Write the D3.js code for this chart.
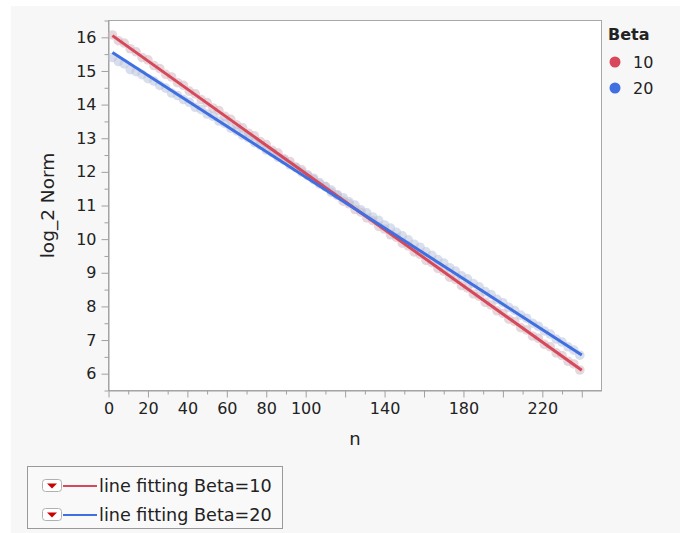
<!DOCTYPE html>
<html>
<head>
<meta charset="utf-8">
<script src="https://cdn.jsdelivr.net/npm/d3@7"></script>
<style>
  body { margin: 0; background: #fff; }
  svg text { font-family: "DejaVu Sans", sans-serif; fill: #222; }
</style>
</head>
<body>
<div id="chart"></div>
<script>
'use strict';

// n values shared by both series
const nValues = d3.range(80).map(k => 2 + 3 * k);

const beta10 = [
  16.07, 15.90, 15.83, 15.66, 15.57, 15.40, 15.33, 15.16, 15.07, 14.90,
  14.82, 14.65, 14.57, 14.40, 14.32, 14.15, 14.06, 13.90, 13.82, 13.65,
  13.56, 13.40, 13.31, 13.15, 13.07, 12.90, 12.81, 12.64, 12.56, 12.39,
  12.31, 12.14, 12.06, 11.89, 11.81, 11.64, 11.56, 11.39, 11.30, 11.13,
  11.05, 10.88, 10.80, 10.63, 10.55, 10.38, 10.30, 10.13, 10.05, 9.88,
  9.80, 9.62, 9.55, 9.37, 9.30, 9.13, 9.05, 8.87, 8.80, 8.62,
  8.55, 8.37, 8.30, 8.12, 8.04, 7.87, 7.79, 7.62, 7.55, 7.37,
  7.30, 7.12, 7.05, 6.87, 6.80, 6.62, 6.54, 6.37, 6.29, 6.11
];

const beta20 = [
  15.40, 15.28, 15.21, 15.04, 14.98, 14.89, 14.77, 14.70, 14.57, 14.49,
  14.34, 14.27, 14.15, 14.07, 13.92, 13.85, 13.72, 13.65, 13.51, 13.44,
  13.30, 13.22, 13.09, 13.01, 12.87, 12.79, 12.65, 12.57, 12.43, 12.35,
  12.21, 12.13, 11.99, 11.91, 11.77, 11.68, 11.56, 11.46, 11.32, 11.23,
  11.11, 11.01, 10.87, 10.78, 10.66, 10.56, 10.42, 10.33, 10.20, 10.10,
  9.98, 9.85, 9.76, 9.62, 9.52, 9.39, 9.29, 9.15, 9.05, 8.91,
  8.82, 8.68, 8.58, 8.44, 8.35, 8.21, 8.11, 7.97, 7.88, 7.74,
  7.65, 7.50, 7.41, 7.27, 7.18, 7.03, 6.94, 6.80, 6.70, 6.55
];

// linear fits
const betaLevels = ["10", "20"];
const fitIntercept = [16.134, 15.625];
const fitSlope = [-0.0418, -0.0378];
const fitRange = [2, 240];

const xMajorTicks = d3.range(0, 241, 20);
const xMinorTicks = d3.range(10, 250, 20);
const xTickLabels = [0, 20, 40, 60, 80, 100, 140, 180, 220];
const yMajorTicks = d3.range(6, 17);
const yMinorTicks = d3.range(5.5, 16.6, 1);

const lineColors = ["#d6485a", "#3f6fe0"];
const pointColors = ["rgba(210,182,192,0.55)", "rgba(186,194,220,0.55)"];

const m = { left: 108.5, top: 20.5, right: 601.5, bottom: 390.5 };

const svg = d3.select('#chart').append('svg')
  .attr('width', 680)
  .attr('height', 533);

svg.append('rect')
  .attr('x', 11).attr('y', 6)
  .attr('width', 669).attr('height', 527)
  .attr('fill', '#f7f7f7');

const x = d3.scaleLinear().domain([0, 250]).range([m.left, m.right]);
const y = d3.scaleLinear().domain([5.5, 16.5]).range([m.bottom, m.top]);

svg.append('rect')
  .attr('x', m.left).attr('y', m.top)
  .attr('width', m.right - m.left).attr('height', m.bottom - m.top)
  .attr('fill', '#fff')
  .attr('stroke', '#a8a8a8');

// axes
function styleAxis(g) {
  g.select('.domain').attr('stroke', '#a0a0a0');
  g.selectAll('.tick line').attr('stroke', '#a0a0a0');
  g.selectAll('.tick text')
    .style('font-size', '16px')
    .attr('fill', '#222');
}

let yAxis = svg.append('g')
  .attr('transform', 'translate(' + m.left + ',0)')
  .call(d3.axisLeft(y).tickValues(yMajorTicks).tickSize(7).tickPadding(5).tickSizeOuter(0));
styleAxis(yAxis);

svg.append('g')
  .attr('transform', 'translate(' + m.left + ',0)')
  .call(d3.axisLeft(y).tickValues(yMinorTicks).tickSize(4).tickFormat('').tickSizeOuter(0))
  .call(g => g.select('.domain').remove())
  .call(g => g.selectAll('line').attr('stroke', '#a0a0a0'));

let xAxis = svg.append('g')
  .attr('transform', 'translate(0,' + m.bottom + ')')
  .call(d3.axisBottom(x).tickValues(xMajorTicks).tickSize(7).tickPadding(5).tickSizeOuter(0)
    .tickFormat(d => xTickLabels.includes(d) ? d : ''));
styleAxis(xAxis);

svg.append('g')
  .attr('transform', 'translate(0,' + m.bottom + ')')
  .call(d3.axisBottom(x).tickValues(xMinorTicks).tickSize(4).tickFormat('').tickSizeOuter(0))
  .call(g => g.select('.domain').remove())
  .call(g => g.selectAll('line').attr('stroke', '#a0a0a0'));

svg.append('text')
  .attr('x', (m.left + m.right) / 2)
  .attr('y', 445)
  .attr('text-anchor', 'middle')
  .style('font-size', '18px')
  .text('n');

svg.append('text')
  .attr('transform', 'translate(54,' + ((m.top + m.bottom) / 2) + ')rotate(-90)')
  .attr('text-anchor', 'middle')
  .style('font-size', '18.5px')
  .text('log_2 Norm');

// points
const series = [beta10, beta20];
const plot = svg.append('g');
series.forEach((vals, i) => {
  plot.selectAll('.pt' + i)
    .data(vals)
    .enter()
    .append('circle')
    .attr('class', 'pt' + i)
    .attr('cx', (d, j) => x(nValues[j]))
    .attr('cy', d => y(d))
    .attr('r', 4.8)
    .attr('fill', pointColors[i]);
});

// fit lines
betaLevels.forEach((b, i) => {
  plot.append('line')
    .attr('x1', x(fitRange[0]))
    .attr('y1', y(fitIntercept[i] + fitSlope[i] * fitRange[0]))
    .attr('x2', x(fitRange[1]))
    .attr('y2', y(fitIntercept[i] + fitSlope[i] * fitRange[1]))
    .attr('stroke', lineColors[i])
    .attr('stroke-width', 3);
});

// Beta legend
svg.append('text')
  .attr('x', 608).attr('y', 40)
  .style('font-size', '16px')
  .style('font-weight', 'bold')
  .text('Beta');

betaLevels.forEach((b, i) => {
  svg.append('circle')
    .attr('cx', 615).attr('cy', 62 + i * 26)
    .attr('r', 5.5)
    .attr('fill', lineColors[i]);
  svg.append('text')
    .attr('x', 633).attr('y', 68 + i * 26)
    .style('font-size', '16px')
    .text(b);
});

// fit legend box
svg.append('rect')
  .attr('x', 27.5).attr('y', 466.5)
  .attr('width', 255).attr('height', 62)
  .attr('fill', '#f9f9f9')
  .attr('stroke', '#999');

betaLevels.forEach((b, i) => {
  let cy = 486 + i * 29;
  svg.append('rect')
    .attr('x', 42.5).attr('y', cy - 6.5)
    .attr('width', 19).attr('height', 12)
    .attr('rx', 3)
    .attr('fill', '#fff')
    .attr('stroke', '#b0b0b0');
  svg.append('path')
    .attr('d', 'M47,' + (cy - 2.5) + 'L57,' + (cy - 2.5) + 'L52,' + (cy + 2.5) + 'Z')
    .attr('fill', '#c00');
  svg.append('line')
    .attr('x1', 63).attr('x2', 97)
    .attr('y1', cy).attr('y2', cy)
    .attr('stroke', lineColors[i])
    .attr('stroke-width', 2);
  svg.append('text')
    .attr('x', 99).attr('y', cy + 6)
    .style('font-size', '17.6px')
    .text('line fitting Beta=' + b);
});
</script>
</body>
</html>
